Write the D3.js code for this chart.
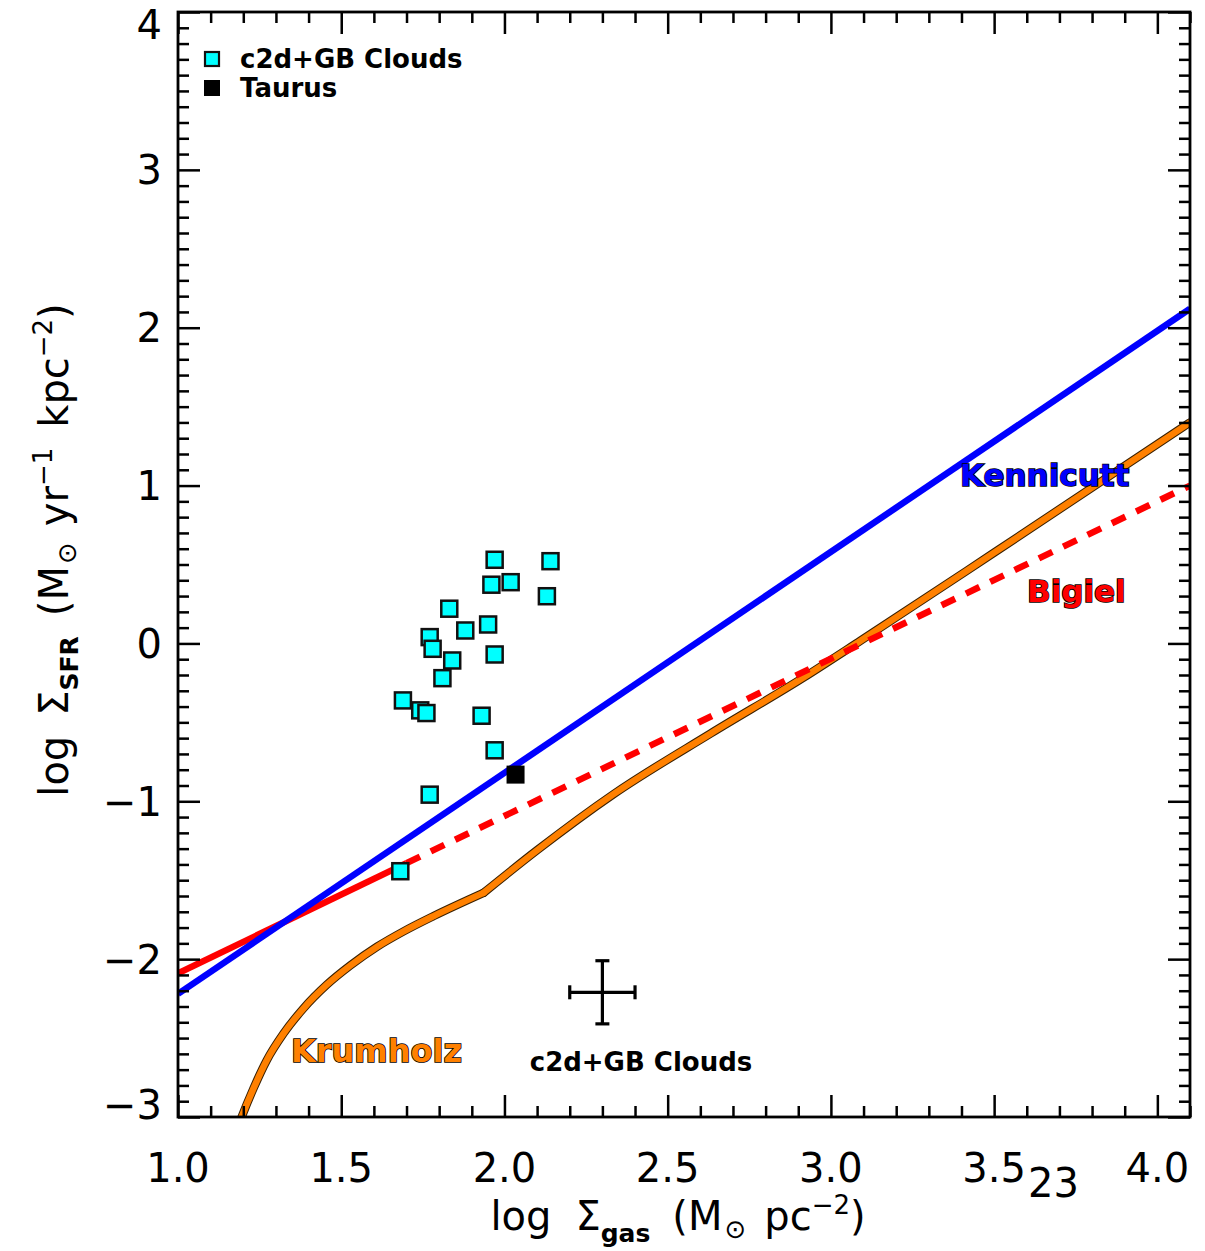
<!DOCTYPE html>
<html>
<head>
<meta charset="utf-8">
<script src="https://cdn.jsdelivr.net/npm/d3@7/dist/d3.min.js"></script>
<style>
  html, body { margin: 0; padding: 0; background: #fff; }
  svg { display: block; }
  text { font-family: "DejaVu Sans", sans-serif; fill: #000; }
</style>
</head>
<body>
<svg id="chart" width="1205" height="1251"></svg>
<script>
// ---------------- data ----------------
const xMajorTicks = [1.0, 1.5, 2.0, 2.5, 3.0, 3.5, 4.0];
const xTickLabels = ["1.0", "1.5", "2.0", "2.5", "3.0", "3.5", "4.0"];
const xTickSubLabels = ["", "", "", "", "", "23", ""];
const yMajorTicks = [-3, -2, -1, 0, 1, 2, 3, 4];
const yTickLabels = ["\u22123", "\u22122", "\u22121", "0", "1", "2", "3", "4"];

// c2d+GB clouds (log Sigma_gas, log Sigma_SFR)
const cloudsX = [1.970, 2.141, 1.960, 2.019, 2.130, 1.831, 1.880, 1.950, 1.771, 1.780,
                 1.840, 1.970, 1.810, 1.689, 1.742, 1.761, 1.930, 1.970, 1.771, 1.681];
const cloudsY = [0.530, 0.521, 0.372, 0.388, 0.299, 0.220, 0.082, 0.120, 0.040, -0.034,
                 -0.108, -0.070, -0.220, -0.361, -0.424, -0.441, -0.458, -0.677, -0.958, -1.443];
const taurusX = [2.034];
const taurusY = [-0.831];

// Kennicutt relation
const kennicuttX = [1.0, 4.1];
const kennicuttY = [-2.22, 2.12];
// Bigiel relation: solid (fit range) and dashed (extrapolation)
const bigielSolidX = [1.0, 1.70];
const bigielSolidY = [-2.09, -1.392];
const bigielDashX = [1.70, 4.1];
const bigielDashY = [-1.392, 1.0];
// Krumholz model: low-density branch (curved) and high-density branch
const krumholzLowX = [1.16, 1.195, 1.231, 1.272, 1.323, 1.384, 1.456, 1.528, 1.610, 1.691, 1.783, 1.936];
const krumholzLowY = [-3.20, -3.0, -2.82, -2.64, -2.472, -2.313, -2.162, -2.040, -1.921, -1.824, -1.727, -1.58];
const krumholzHighX = [1.936, 2.10, 2.334, 2.632, 2.917, 3.092, 3.5, 4.1];
const krumholzHighY = [-1.58, -1.31, -0.955, -0.570, -0.215, 0.019, 0.575, 1.40];

// typical error bar
const errX = [2.30], errY = [-2.21], errDX = [0.10], errDY = [0.20];

// ---------------- layout ----------------
const L = 178, R = 1190, T = 12, B = 1117;
const svg = d3.select("#chart");
const x = d3.scaleLinear().domain([1.0, 4.1]).range([L, R]);
const y = d3.scaleLinear().domain([-3, 4]).range([B, T]);

svg.append("defs").append("clipPath").attr("id", "clip")
  .append("rect").attr("x", L).attr("y", T).attr("width", R - L).attr("height", B - T);

const plot = svg.append("g").attr("clip-path", "url(#clip)");
const line = d3.line().x(d => x(d[0])).y(d => y(d[1]));
const smooth = d3.line().x(d => x(d[0])).y(d => y(d[1])).curve(d3.curveMonotoneX);
const zip = (a, b) => a.map((v, i) => [v, b[i]]);

// Krumholz (orange with thin dark outline)
const kLow = zip(krumholzLowX, krumholzLowY), kHigh = zip(krumholzHighX, krumholzHighY);
[kLow, kHigh].forEach(seg => {
  plot.append("path").datum(seg).attr("d", smooth)
    .attr("fill", "none").attr("stroke", "#3a2000").attr("stroke-width", 8.5)
    .attr("stroke-linejoin", "round").attr("stroke-linecap", "round");
});
[kLow, kHigh].forEach(seg => {
  plot.append("path").datum(seg).attr("d", smooth)
    .attr("fill", "none").attr("stroke", "#ff8000").attr("stroke-width", 6.5)
    .attr("stroke-linejoin", "round").attr("stroke-linecap", "round");
});

// Bigiel
plot.append("path").datum(zip(bigielSolidX, bigielSolidY)).attr("d", line)
  .attr("fill", "none").attr("stroke", "#ff0000").attr("stroke-width", 6.5);
plot.append("path").datum(zip(bigielDashX, bigielDashY)).attr("d", line)
  .attr("fill", "none").attr("stroke", "#ff0000").attr("stroke-width", 6.5)
  .attr("stroke-dasharray", "15,12");

// Kennicutt
plot.append("path").datum(zip(kennicuttX, kennicuttY)).attr("d", line)
  .attr("fill", "none").attr("stroke", "#0000ff").attr("stroke-width", 6.5);

// points
const sq = 16;
plot.selectAll("rect.cloud").data(zip(cloudsX, cloudsY)).enter().append("rect")
  .attr("class", "cloud")
  .attr("x", d => x(d[0]) - sq / 2).attr("y", d => y(d[1]) - sq / 2)
  .attr("width", sq).attr("height", sq)
  .attr("fill", "#00ffff").attr("stroke", "#111").attr("stroke-width", 2.5);
plot.selectAll("rect.taurus").data(zip(taurusX, taurusY)).enter().append("rect")
  .attr("class", "taurus")
  .attr("x", d => x(d[0]) - 9).attr("y", d => y(d[1]) - 9)
  .attr("width", 18).attr("height", 18).attr("fill", "#000");

// error bar
const eb = svg.append("g").attr("stroke", "#000").attr("stroke-width", 3.2);
errX.forEach((ex, i) => {
  const cx = x(ex), cy = y(errY[i]);
  const x0 = x(ex - errDX[i]), x1 = x(ex + errDX[i]);
  const y0 = y(errY[i] - errDY[i]), y1 = y(errY[i] + errDY[i]);
  eb.append("line").attr("x1", x0).attr("x2", x1).attr("y1", cy).attr("y2", cy);
  eb.append("line").attr("x1", cx).attr("x2", cx).attr("y1", y0).attr("y2", y1);
  eb.append("line").attr("x1", x0).attr("x2", x0).attr("y1", cy - 7).attr("y2", cy + 7);
  eb.append("line").attr("x1", x1).attr("x2", x1).attr("y1", cy - 7).attr("y2", cy + 7);
  eb.append("line").attr("x1", cx - 7).attr("x2", cx + 7).attr("y1", y0).attr("y2", y0);
  eb.append("line").attr("x1", cx - 7).attr("x2", cx + 7).attr("y1", y1).attr("y2", y1);
});

// ---------------- axes ----------------
const xMinor = d3.range(10, 42).map(v => v / 10).filter(v => Math.abs(v * 2 - Math.round(v * 2)) > 1e-6);
const yMinor = d3.range(-30, 41).map(v => v / 10).filter(v => Math.abs(v - Math.round(v)) > 1e-6);

function addAxis(axis, tx, ty) {
  const g = svg.append("g").attr("transform", `translate(${tx},${ty})`).call(axis);
  g.select(".domain").remove();
  g.selectAll("line").attr("stroke", "#000").attr("stroke-width", 2.5);
  g.selectAll("text").remove();
}
addAxis(d3.axisBottom(x).tickValues(xMajorTicks).tickSize(-22).tickFormat(""), 0, B);
addAxis(d3.axisBottom(x).tickValues(xMinor).tickSize(-11).tickFormat(""), 0, B);
addAxis(d3.axisTop(x).tickValues(xMajorTicks).tickSize(-22).tickFormat(""), 0, T);
addAxis(d3.axisTop(x).tickValues(xMinor).tickSize(-11).tickFormat(""), 0, T);
addAxis(d3.axisLeft(y).tickValues(yMajorTicks).tickSize(-22).tickFormat(""), L, 0);
addAxis(d3.axisLeft(y).tickValues(yMinor).tickSize(-11).tickFormat(""), L, 0);
addAxis(d3.axisRight(y).tickValues(yMajorTicks).tickSize(-22).tickFormat(""), R, 0);
addAxis(d3.axisRight(y).tickValues(yMinor).tickSize(-11).tickFormat(""), R, 0);

svg.append("rect").attr("x", L).attr("y", T).attr("width", R - L).attr("height", B - T)
  .attr("fill", "none").attr("stroke", "#000").attr("stroke-width", 2.8);

// tick labels
const xl = svg.append("g");
xMajorTicks.forEach((v, i) => {
  const t = xl.append("text").attr("x", x(v)).attr("y", B + 65)
    .attr("text-anchor", "middle").attr("font-size", 40).text(xTickLabels[i]);
  if (xTickSubLabels[i]) {
    const w = t.node().getComputedTextLength();
    xl.append("text").attr("x", x(v) + w / 2 + 2).attr("y", B + 80)
      .attr("font-size", 40).text(xTickSubLabels[i]);
  }
});
const yl = svg.append("g");
yMajorTicks.forEach((v, i) => {
  let yy = y(v);
  if (v === -3) yy -= 12;
  if (v === 4) yy += 13;
  yl.append("text").attr("x", 162).attr("y", yy).attr("dy", "0.36em")
    .attr("text-anchor", "end").attr("font-size", 40).text(yTickLabels[i]);
});

// axis titles
const xt = svg.append("text").attr("x", 678).attr("y", 1230).attr("text-anchor", "middle").attr("font-size", 40);
xt.append("tspan").text("log");
xt.append("tspan").attr("dx", 24).text("\u03A3");
xt.append("tspan").attr("font-size", 25).attr("font-weight", "bold").attr("dy", 12).text("gas");
xt.append("tspan").attr("dy", -12).attr("dx", 22).text("(M");
xt.append("tspan").attr("font-size", 26).attr("dy", 8).attr("dx", 2).text("\u2299");
xt.append("tspan").attr("dy", -8).attr("dx", 18).text("pc");
xt.append("tspan").attr("font-size", 26).attr("dy", -16).text("\u22122");
xt.append("tspan").attr("dy", 16).text(")");

const yt = svg.append("text").attr("transform", "translate(68,550) rotate(-90)")
  .attr("text-anchor", "middle").attr("font-size", 40);
yt.append("tspan").text("log");
yt.append("tspan").attr("dx", 20).text("\u03A3");
yt.append("tspan").attr("font-size", 25).attr("font-weight", "bold").attr("dy", 10).text("SFR");
yt.append("tspan").attr("dy", -10).attr("dx", 20).text("(M");
yt.append("tspan").attr("font-size", 26).attr("dy", 8).attr("dx", 2).text("\u2299");
yt.append("tspan").attr("dy", -8).attr("dx", 16).text("yr");
yt.append("tspan").attr("font-size", 26).attr("dy", -16).text("\u22121");
yt.append("tspan").attr("dy", 16).attr("dx", 20).text("kpc");
yt.append("tspan").attr("font-size", 26).attr("dy", -16).text("\u22122");
yt.append("tspan").attr("dy", 16).text(")");

// legend
svg.append("rect").attr("x", 205).attr("y", 52).attr("width", 14).attr("height", 14)
  .attr("fill", "#00ffff").attr("stroke", "#111").attr("stroke-width", 2.2);
svg.append("rect").attr("x", 204).attr("y", 80).attr("width", 16).attr("height", 16).attr("fill", "#000");
svg.append("text").attr("x", 240).attr("y", 68).attr("font-size", 26).attr("font-weight", "bold").text("c2d+GB Clouds");
svg.append("text").attr("x", 240).attr("y", 97).attr("font-size", 26).attr("font-weight", "bold").text("Taurus");

// annotations
function outlined(tx, ty, str, color, size) {
  svg.append("text").attr("x", tx).attr("y", ty).attr("font-size", size).attr("font-weight", "bold")
    .attr("fill", color).style("fill", color).attr("stroke", "#000").attr("stroke-width", 1.6)
    .attr("paint-order", "stroke").text(str);
}
outlined(960, 486, "Kennicutt", "#0000ff", 31);
outlined(1027, 602, "Bigiel", "#ff0000", 31);
outlined(291, 1062, "Krumholz", "#ff8000", 32);
svg.append("text").attr("x", 641).attr("y", 1071).attr("text-anchor", "middle")
  .attr("font-size", 26).attr("font-weight", "bold").text("c2d+GB Clouds");
</script>
</body>
</html>
